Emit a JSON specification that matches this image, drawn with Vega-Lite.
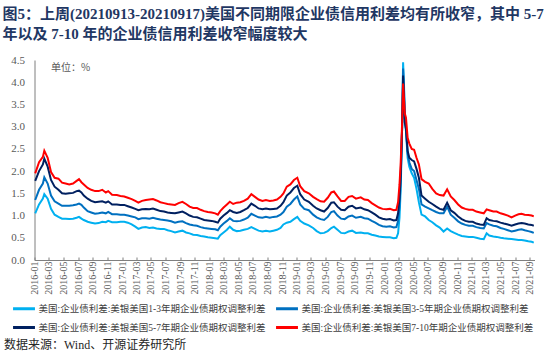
{
  "$schema": "https://vega.github.io/schema/vega-lite/v6.json",
  "autosize": {"type": "none"},
  "width": 500,
  "height": 200,
  "padding": {"left": 34.5, "top": 60, "right": 15.5, "bottom": 95},
  "background": "white",
  "title": {
    "text": ["图5：上周(20210913-20210917)美国不同期限企业债信用利差均有所收窄，其中 5-7", "年以及 7-10 年的企业债信用利差收窄幅度较大"],
    "anchor": "start",
    "frame": "group",
    "dx": -32,
    "offset": 12,
    "font": "Liberation Serif, Noto Sans CJK SC",
    "fontSize": 15,
    "fontWeight": "bold",
    "color": "#1f3763",
    "lineHeight": 20
  },
  "data": {
    "values": [
      {"d": "2016/01/04", "a": 1.05, "b": 1.35, "c": 1.78, "e": 1.95},
      {"d": "2016/01/20", "a": 1.25, "b": 1.58, "c": 2.0, "e": 2.2},
      {"d": "2016/02/05", "a": 1.38, "b": 1.72, "c": 2.15, "e": 2.32},
      {"d": "2016/02/11", "a": 1.48, "b": 1.86, "c": 2.28, "e": 2.46},
      {"d": "2016/02/25", "a": 1.38, "b": 1.72, "c": 2.1, "e": 2.3},
      {"d": "2016/03/10", "a": 1.15, "b": 1.45, "c": 1.8, "e": 1.98},
      {"d": "2016/03/25", "a": 1.02, "b": 1.32, "c": 1.65, "e": 1.85},
      {"d": "2016/04/10", "a": 0.97, "b": 1.27, "c": 1.58, "e": 1.83},
      {"d": "2016/04/25", "a": 0.93, "b": 1.22, "c": 1.5, "e": 1.74},
      {"d": "2016/05/10", "a": 0.93, "b": 1.22, "c": 1.49, "e": 1.72},
      {"d": "2016/05/25", "a": 0.92, "b": 1.22, "c": 1.5, "e": 1.7},
      {"d": "2016/06/10", "a": 0.93, "b": 1.23, "c": 1.51, "e": 1.72},
      {"d": "2016/06/25", "a": 0.95, "b": 1.25, "c": 1.55, "e": 1.78},
      {"d": "2016/07/05", "a": 0.97, "b": 1.27, "c": 1.56, "e": 1.82},
      {"d": "2016/07/15", "a": 0.93, "b": 1.24, "c": 1.52, "e": 1.75},
      {"d": "2016/07/25", "a": 0.9, "b": 1.18, "c": 1.45, "e": 1.7},
      {"d": "2016/08/10", "a": 0.86, "b": 1.1, "c": 1.38, "e": 1.62},
      {"d": "2016/08/25", "a": 0.84, "b": 1.07, "c": 1.33, "e": 1.58},
      {"d": "2016/09/10", "a": 0.82, "b": 1.04, "c": 1.3, "e": 1.55},
      {"d": "2016/09/25", "a": 0.83, "b": 1.05, "c": 1.31, "e": 1.55},
      {"d": "2016/10/10", "a": 0.86, "b": 1.07, "c": 1.32, "e": 1.58},
      {"d": "2016/10/25", "a": 0.85, "b": 1.05, "c": 1.29, "e": 1.52},
      {"d": "2016/11/04", "a": 0.88, "b": 1.08, "c": 1.32, "e": 1.55},
      {"d": "2016/11/20", "a": 0.85, "b": 1.03, "c": 1.25, "e": 1.47},
      {"d": "2016/12/10", "a": 0.85, "b": 1.03, "c": 1.25, "e": 1.46},
      {"d": "2016/12/25", "a": 0.86, "b": 1.02, "c": 1.24, "e": 1.44},
      {"d": "2017/01/10", "a": 0.86, "b": 1.02, "c": 1.24, "e": 1.43},
      {"d": "2017/01/25", "a": 0.84, "b": 1.0, "c": 1.21, "e": 1.4},
      {"d": "2017/02/10", "a": 0.8, "b": 0.98, "c": 1.18, "e": 1.37},
      {"d": "2017/02/25", "a": 0.75, "b": 0.96, "c": 1.15, "e": 1.33},
      {"d": "2017/03/10", "a": 0.7, "b": 0.92, "c": 1.12, "e": 1.29},
      {"d": "2017/03/25", "a": 0.73, "b": 0.94, "c": 1.14, "e": 1.33},
      {"d": "2017/04/10", "a": 0.74, "b": 0.94, "c": 1.15, "e": 1.35},
      {"d": "2017/04/25", "a": 0.72, "b": 0.93, "c": 1.14, "e": 1.36},
      {"d": "2017/05/10", "a": 0.73, "b": 0.95, "c": 1.16, "e": 1.37},
      {"d": "2017/05/25", "a": 0.71, "b": 0.93, "c": 1.13, "e": 1.34},
      {"d": "2017/06/10", "a": 0.7, "b": 0.91, "c": 1.1, "e": 1.3},
      {"d": "2017/06/25", "a": 0.7, "b": 0.9, "c": 1.09, "e": 1.28},
      {"d": "2017/07/10", "a": 0.67, "b": 0.89, "c": 1.07, "e": 1.26},
      {"d": "2017/07/25", "a": 0.65, "b": 0.87, "c": 1.06, "e": 1.25},
      {"d": "2017/08/10", "a": 0.62, "b": 0.84, "c": 1.05, "e": 1.24},
      {"d": "2017/08/25", "a": 0.64, "b": 0.86, "c": 1.07, "e": 1.28},
      {"d": "2017/09/10", "a": 0.66, "b": 0.87, "c": 1.09, "e": 1.31},
      {"d": "2017/09/25", "a": 0.62, "b": 0.83, "c": 1.05, "e": 1.26},
      {"d": "2017/10/10", "a": 0.6, "b": 0.8, "c": 1.0, "e": 1.2},
      {"d": "2017/10/25", "a": 0.57, "b": 0.78, "c": 0.97, "e": 1.17},
      {"d": "2017/11/10", "a": 0.56, "b": 0.77, "c": 0.96, "e": 1.17},
      {"d": "2017/11/25", "a": 0.54, "b": 0.74, "c": 0.93, "e": 1.13},
      {"d": "2017/12/10", "a": 0.53, "b": 0.72, "c": 0.9, "e": 1.1},
      {"d": "2017/12/25", "a": 0.51, "b": 0.71, "c": 0.89, "e": 1.08},
      {"d": "2018/01/10", "a": 0.5, "b": 0.7, "c": 0.88, "e": 1.07},
      {"d": "2018/01/25", "a": 0.49, "b": 0.69, "c": 0.86, "e": 1.05},
      {"d": "2018/02/05", "a": 0.48, "b": 0.67, "c": 0.84, "e": 1.02},
      {"d": "2018/02/15", "a": 0.56, "b": 0.75, "c": 0.93, "e": 1.1},
      {"d": "2018/03/01", "a": 0.62, "b": 0.82, "c": 1.0, "e": 1.18},
      {"d": "2018/03/15", "a": 0.68, "b": 0.88, "c": 1.06, "e": 1.25},
      {"d": "2018/03/27", "a": 0.75, "b": 0.94, "c": 1.12, "e": 1.31},
      {"d": "2018/04/10", "a": 0.68, "b": 0.88, "c": 1.08, "e": 1.26},
      {"d": "2018/04/25", "a": 0.65, "b": 0.87, "c": 1.06, "e": 1.29},
      {"d": "2018/05/10", "a": 0.66, "b": 0.88, "c": 1.08, "e": 1.3},
      {"d": "2018/05/25", "a": 0.68, "b": 0.91, "c": 1.12, "e": 1.33},
      {"d": "2018/06/10", "a": 0.7, "b": 0.95, "c": 1.17, "e": 1.38},
      {"d": "2018/06/25", "a": 0.74, "b": 1.04, "c": 1.27, "e": 1.48},
      {"d": "2018/07/10", "a": 0.7, "b": 1.0, "c": 1.22, "e": 1.42},
      {"d": "2018/07/25", "a": 0.66, "b": 0.96, "c": 1.16, "e": 1.36},
      {"d": "2018/08/10", "a": 0.64, "b": 0.95, "c": 1.14, "e": 1.33},
      {"d": "2018/08/25", "a": 0.66, "b": 0.97, "c": 1.16, "e": 1.35},
      {"d": "2018/09/10", "a": 0.64, "b": 0.95, "c": 1.14, "e": 1.33},
      {"d": "2018/09/25", "a": 0.66, "b": 0.97, "c": 1.15, "e": 1.34},
      {"d": "2018/10/10", "a": 0.68, "b": 0.98, "c": 1.16, "e": 1.36},
      {"d": "2018/10/25", "a": 0.72, "b": 1.02, "c": 1.22, "e": 1.42},
      {"d": "2018/11/06", "a": 0.8, "b": 1.08, "c": 1.3, "e": 1.5},
      {"d": "2018/11/20", "a": 0.84, "b": 1.2, "c": 1.45, "e": 1.65},
      {"d": "2018/12/05", "a": 0.86, "b": 1.26, "c": 1.52, "e": 1.7},
      {"d": "2018/12/20", "a": 0.92, "b": 1.36, "c": 1.62, "e": 1.8},
      {"d": "2019/01/03", "a": 0.97, "b": 1.43, "c": 1.67, "e": 1.85},
      {"d": "2019/01/15", "a": 0.88, "b": 1.25, "c": 1.48, "e": 1.66},
      {"d": "2019/02/01", "a": 0.82, "b": 1.15, "c": 1.36, "e": 1.55},
      {"d": "2019/02/20", "a": 0.78, "b": 1.12, "c": 1.31, "e": 1.5},
      {"d": "2019/03/10", "a": 0.72, "b": 1.02, "c": 1.22, "e": 1.42},
      {"d": "2019/03/25", "a": 0.65, "b": 0.96, "c": 1.16, "e": 1.37},
      {"d": "2019/04/10", "a": 0.6, "b": 0.92, "c": 1.12, "e": 1.32},
      {"d": "2019/04/25", "a": 0.61, "b": 0.9, "c": 1.09, "e": 1.31},
      {"d": "2019/05/10", "a": 0.65, "b": 0.97, "c": 1.17, "e": 1.4},
      {"d": "2019/05/25", "a": 0.72, "b": 1.08, "c": 1.29, "e": 1.52},
      {"d": "2019/06/05", "a": 0.75, "b": 1.1, "c": 1.3, "e": 1.54},
      {"d": "2019/06/20", "a": 0.68, "b": 1.0, "c": 1.2, "e": 1.43},
      {"d": "2019/07/05", "a": 0.61, "b": 0.93, "c": 1.13, "e": 1.33},
      {"d": "2019/07/20", "a": 0.6, "b": 0.92, "c": 1.12, "e": 1.33},
      {"d": "2019/08/05", "a": 0.64, "b": 0.98, "c": 1.2, "e": 1.42},
      {"d": "2019/08/20", "a": 0.66, "b": 1.0, "c": 1.22, "e": 1.44},
      {"d": "2019/09/05", "a": 0.61, "b": 0.95, "c": 1.16, "e": 1.38},
      {"d": "2019/09/25", "a": 0.62, "b": 0.97, "c": 1.18, "e": 1.41},
      {"d": "2019/10/10", "a": 0.6, "b": 0.94, "c": 1.14, "e": 1.36},
      {"d": "2019/10/25", "a": 0.6, "b": 0.93, "c": 1.12, "e": 1.35},
      {"d": "2019/11/10", "a": 0.57, "b": 0.88, "c": 1.07, "e": 1.28},
      {"d": "2019/11/25", "a": 0.55, "b": 0.84, "c": 1.02, "e": 1.23},
      {"d": "2019/12/10", "a": 0.53, "b": 0.79, "c": 0.96, "e": 1.18},
      {"d": "2019/12/25", "a": 0.52, "b": 0.76, "c": 0.93, "e": 1.15},
      {"d": "2020/01/10", "a": 0.51, "b": 0.75, "c": 0.91, "e": 1.14},
      {"d": "2020/01/25", "a": 0.51, "b": 0.76, "c": 0.92, "e": 1.15},
      {"d": "2020/02/10", "a": 0.49, "b": 0.73, "c": 0.89, "e": 1.12},
      {"d": "2020/02/21", "a": 0.5, "b": 0.74, "c": 0.9, "e": 1.13},
      {"d": "2020/02/28", "a": 0.6, "b": 0.88, "c": 1.05, "e": 1.3},
      {"d": "2020/03/05", "a": 0.95, "b": 1.2, "c": 1.4, "e": 1.7},
      {"d": "2020/03/10", "a": 1.6, "b": 1.8, "c": 1.9, "e": 2.2},
      {"d": "2020/03/16", "a": 3.0, "b": 3.0, "c": 3.0, "e": 3.1},
      {"d": "2020/03/20", "a": 4.45, "b": 4.31, "c": 4.15, "e": 3.97},
      {"d": "2020/03/24", "a": 3.9, "b": 3.8, "c": 3.65, "e": 3.6},
      {"d": "2020/03/27", "a": 3.2, "b": 3.2, "c": 3.1, "e": 3.3},
      {"d": "2020/04/01", "a": 2.9, "b": 2.95, "c": 2.95, "e": 3.2},
      {"d": "2020/04/08", "a": 2.3, "b": 2.4, "c": 2.45, "e": 2.75},
      {"d": "2020/04/15", "a": 2.1, "b": 2.2, "c": 2.3, "e": 2.62},
      {"d": "2020/04/25", "a": 1.95, "b": 2.05, "c": 2.25, "e": 2.5},
      {"d": "2020/05/05", "a": 1.85, "b": 2.0, "c": 2.22, "e": 2.48},
      {"d": "2020/05/15", "a": 1.6, "b": 1.8, "c": 2.05, "e": 2.3},
      {"d": "2020/05/25", "a": 1.3, "b": 1.6, "c": 1.85, "e": 2.15},
      {"d": "2020/06/05", "a": 1.02, "b": 1.25, "c": 1.45, "e": 1.82},
      {"d": "2020/06/20", "a": 0.98, "b": 1.2, "c": 1.38, "e": 1.76},
      {"d": "2020/07/05", "a": 0.9, "b": 1.16, "c": 1.31, "e": 1.72},
      {"d": "2020/07/20", "a": 0.85, "b": 1.12, "c": 1.26, "e": 1.6},
      {"d": "2020/08/05", "a": 0.78, "b": 1.08, "c": 1.2, "e": 1.5},
      {"d": "2020/08/20", "a": 0.73, "b": 1.05, "c": 1.15, "e": 1.46},
      {"d": "2020/09/05", "a": 0.64, "b": 1.05, "c": 1.13, "e": 1.45},
      {"d": "2020/09/20", "a": 0.71, "b": 1.2, "c": 1.29, "e": 1.59},
      {"d": "2020/10/05", "a": 0.65, "b": 1.02, "c": 1.12, "e": 1.43},
      {"d": "2020/10/20", "a": 0.61, "b": 0.95, "c": 1.06, "e": 1.35},
      {"d": "2020/11/05", "a": 0.57, "b": 0.87, "c": 0.98, "e": 1.25},
      {"d": "2020/11/20", "a": 0.54, "b": 0.82, "c": 0.92, "e": 1.18},
      {"d": "2020/12/05", "a": 0.53, "b": 0.79, "c": 0.88, "e": 1.15},
      {"d": "2020/12/20", "a": 0.52, "b": 0.77, "c": 0.86, "e": 1.13},
      {"d": "2021/01/05", "a": 0.52, "b": 0.77, "c": 0.86, "e": 1.13},
      {"d": "2021/01/20", "a": 0.5, "b": 0.74, "c": 0.82, "e": 1.09},
      {"d": "2021/02/05", "a": 0.48, "b": 0.72, "c": 0.8, "e": 1.07},
      {"d": "2021/02/20", "a": 0.47, "b": 0.71, "c": 0.79, "e": 1.05},
      {"d": "2021/03/04", "a": 0.6, "b": 0.83, "c": 0.94, "e": 1.14},
      {"d": "2021/03/15", "a": 0.55, "b": 0.8, "c": 0.9, "e": 1.12},
      {"d": "2021/04/01", "a": 0.53, "b": 0.77, "c": 0.88, "e": 1.09},
      {"d": "2021/04/15", "a": 0.52, "b": 0.76, "c": 0.87, "e": 1.09},
      {"d": "2021/05/01", "a": 0.5, "b": 0.72, "c": 0.84, "e": 1.05},
      {"d": "2021/05/15", "a": 0.49, "b": 0.7, "c": 0.82, "e": 1.03},
      {"d": "2021/06/01", "a": 0.48, "b": 0.67, "c": 0.8, "e": 1.0},
      {"d": "2021/06/16", "a": 0.47, "b": 0.64, "c": 0.77, "e": 0.96},
      {"d": "2021/07/01", "a": 0.46, "b": 0.66, "c": 0.8, "e": 1.0},
      {"d": "2021/07/15", "a": 0.45, "b": 0.68, "c": 0.82, "e": 1.03},
      {"d": "2021/07/28", "a": 0.45, "b": 0.69, "c": 0.83, "e": 1.04},
      {"d": "2021/08/10", "a": 0.44, "b": 0.67, "c": 0.82, "e": 1.02},
      {"d": "2021/08/25", "a": 0.42, "b": 0.65, "c": 0.8, "e": 1.01},
      {"d": "2021/09/08", "a": 0.41, "b": 0.63, "c": 0.79, "e": 1.0},
      {"d": "2021/09/17", "a": 0.39, "b": 0.61, "c": 0.77, "e": 0.98}
    ]
  },
  "transform": [{"fold": ["a", "b", "c", "e"], "as": ["k", "v"]}],
  "mark": {"type": "line", "strokeWidth": 2, "interpolate": "linear"},
  "encoding": {
    "x": {
      "field": "d",
      "type": "temporal",
      "scale": {"domain": [{"year": 2016, "month": 1, "date": 1}, {"year": 2021, "month": 9, "date": 20}], "nice": false},
      "axis": {
        "format": "%Y-%m",
        "tickCount": {"interval": "month", "step": 2},
        "labelAngle": -90,
        "labelAlign": "right",
        "labelBaseline": "middle",
        "labelFont": "Liberation Serif",
        "labelFontSize": 10,
        "labelColor": "#595959",
        "labelPadding": 4,
        "labelOverlap": false,
        "labelFlush": false,
        "tickSize": -3,
        "tickColor": "#7f7f7f",
        "domainColor": "#7f7f7f",
        "grid": false,
        "title": "数据来源：Wind、开源证券研究所",
        "titleFont": "Liberation Serif, Noto Sans CJK SC",
        "titleFontSize": 12,
        "titleFontWeight": "normal",
        "titleColor": "#262626",
        "titleAnchor": "start",
        "titleAlign": "left",
        "titleBaseline": "middle",
        "titleX": -31,
        "titleY": 84
      }
    },
    "y": {
      "field": "v",
      "type": "quantitative",
      "scale": {"domain": [0, 4.5], "nice": false},
      "axis": {
        "values": [0, 0.5, 1, 1.5, 2, 2.5, 3, 3.5, 4, 4.5],
        "format": ".1f",
        "labelFont": "Liberation Serif",
        "labelFontSize": 11,
        "labelColor": "#595959",
        "labelPadding": 10,
        "ticks": false,
        "domainColor": "#7f7f7f",
        "grid": false,
        "title": "单位：%",
        "titleAngle": 0,
        "titleAlign": "left",
        "titleBaseline": "middle",
        "titleX": 16,
        "titleY": 7,
        "titleFont": "Noto Sans CJK SC",
        "titleFontSize": 10,
        "titleFontWeight": "normal",
        "titleColor": "#595959"
      }
    },
    "color": {
      "field": "k",
      "type": "nominal",
      "scale": {"domain": ["a", "c", "b", "e"], "range": ["#00b0f0", "#002060", "#0070c0", "#ff0000"]},
      "legend": {
        "orient": "none",
        "legendX": -23,
        "legendY": 236,
        "columns": 2,
        "columnPadding": 4,
        "rowPadding": -7,
        "title": null,
        "symbolType": "stroke",
        "symbolSize": 480,
        "symbolStrokeWidth": 3,
        "labelOffset": 2,
        "labelLimit": 400,
        "labelFont": "Liberation Serif, Noto Sans CJK SC",
        "labelFontSize": 9.5,
        "labelColor": "#404040",
        "labelExpr": "datum.label == 'a' ? '美国:企业债利差:美银美国1-3年期企业债期权调整利差' : datum.label == 'b' ? '美国:企业债利差:美银美国3-5年期企业债期权调整利差' : datum.label == 'c' ? '美国:企业债利差:美银美国5-7年期企业债期权调整利差' : '美国:企业债利差:美银美国7-10年期企业债期权调整利差'"
      }
    }
  },
  "config": {"view": {"stroke": null}}
}
